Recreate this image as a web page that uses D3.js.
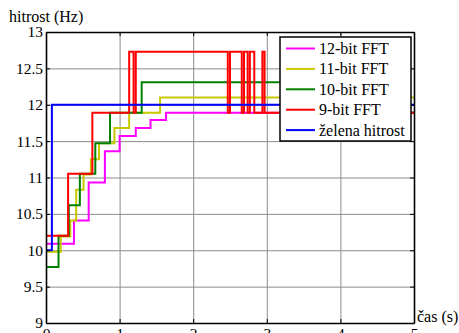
<!DOCTYPE html>
<html>
<head>
<meta charset="utf-8">
<script src="https://cdn.jsdelivr.net/npm/d3@7"></script>
<style>
  body { margin: 0; background: #fff; }
  svg text { font-family: "Liberation Serif", "Times New Roman", "DejaVu Serif", serif; }
</style>
</head>
<body>
<div id="container"></div>
<script>
/* DATA */
const xTicks = [0, 1, 2, 3, 4, 5];
const xTickLabels = ["0", "1", "2", "3", "4", "5"];
const yTicks = [9, 9.5, 10, 10.5, 11, 11.5, 12, 12.5, 13];
const yTickLabels = ["9", "9.5", "10", "10.5", "11", "11.5", "12", "12.5", "13"];

// 12-bit FFT
const t12 = [0, 0.38, 0.58, 0.80, 1.00, 1.22, 1.42, 1.63, 5];
const f12 = [10.09, 10.41, 10.93, 11.36, 11.57, 11.68, 11.79, 11.89, 11.89];
// 11-bit FFT
const t11 = [0, 0.20, 0.33, 0.41, 0.51, 0.61, 0.72, 0.93, 1.13, 1.55, 5];
const f11 = [9.98, 10.19, 10.41, 10.83, 11.04, 11.25, 11.47, 11.68, 11.89, 12.10, 12.10];
// 10-bit FFT
const t10 = [0, 0.17, 0.31, 0.46, 0.67, 0.87, 1.30, 4.6, 5];
const f10 = [9.77, 10.20, 10.62, 11.05, 11.47, 11.89, 12.31, 11.89, 11.89];
// 9-bit FFT
const t9 = [0, 0.30, 0.63, 1.13, 1.19, 1.22, 2.47, 2.50, 2.66, 2.69, 2.74, 2.77, 2.83, 2.94, 2.97, 5];
const f9 = [10.20, 11.05, 11.89, 12.73, 11.89, 12.73, 11.89, 12.73, 11.89, 12.73, 11.89, 12.73, 11.89, 12.73, 11.89, 11.89];
// zelena hitrost
const tRef = [0, 0.08, 5];
const fRef = [10.0, 12.0, 12.0];

const seriesNames = ["12-bit FFT", "11-bit FFT", "10-bit FFT", "9-bit FFT", "želena hitrost"];
const seriesColors = ["#ff00ff", "#c8c800", "#008000", "#ff0000", "#0000ff"];

/* CONSTANTS */
const width = 459, height = 333;
const margin = {top: 32, left: 46, bottom: 10, right: 45};
const serif = "'Liberation Serif', 'Times New Roman', 'DejaVu Serif', serif";

const series = [[t12, f12], [t11, f11], [t10, f10], [t9, f9], [tRef, fRef]]
  .map(([t, f], i) => ({name: seriesNames[i], color: seriesColors[i],
    values: t.map((d, j) => ({t: d, f: f[j]}))}));

// SCALES
const xScale = d3.scaleLinear().domain([0, 5]).range([margin.left, width - margin.right]);
const yScale = d3.scaleLinear().domain([9, 13]).range([height - margin.bottom, margin.top]);

const svg = d3.select("#container").append("svg")
  .attr("width", width).attr("height", height);

const x0 = xScale(0), x1 = xScale(5), y0 = yScale(9), y1 = yScale(13);

// GRID
svg.append("g")
  .attr("transform", `translate(0,${y0})`)
  .call(d3.axisBottom(xScale).tickValues(xTicks).tickSize(-(y0 - y1)).tickFormat(""))
  .call(g => g.select(".domain").remove())
  .call(g => g.selectAll("line").attr("stroke", "#8c8c8c").attr("stroke-width", 1));
svg.append("g")
  .attr("transform", `translate(${x0},0)`)
  .call(d3.axisLeft(yScale).tickValues(yTicks).tickSize(-(x1 - x0)).tickFormat(""))
  .call(g => g.select(".domain").remove())
  .call(g => g.selectAll("line").attr("stroke", "#8c8c8c").attr("stroke-width", 1));

// LINES
svg.append("clipPath").attr("id", "clip")
  .append("rect").attr("x", x0).attr("y", y1).attr("width", x1 - x0).attr("height", y0 - y1);

const lineGen = d3.line()
  .x(d => xScale(d.t))
  .y(d => yScale(d.f))
  .curve(d3.curveStepAfter);

svg.append("g").attr("clip-path", "url(#clip)")
  .selectAll(".line")
  .data(series)
  .join("path")
  .attr("class", "line")
  .attr("d", d => lineGen(d.values))
  .attr("fill", "none")
  .attr("stroke", d => d.color)
  .attr("stroke-width", 2);

// AXES (inward ticks on all sides)
const axisStyle = g => {
  g.attr("font-family", serif).attr("font-size", 15.5);
  g.select(".domain").attr("stroke", "#000").attr("stroke-width", 1.6);
  g.selectAll(".tick line").attr("stroke", "#000");
  g.selectAll("text").attr("fill", "#000");
};

svg.append("g")
  .attr("transform", `translate(0,${y0})`)
  .call(d3.axisBottom(xScale).tickValues(xTicks).tickSizeInner(-4).tickSizeOuter(0).tickPadding(5)
    .tickFormat((d, i) => xTickLabels[i]))
  .call(axisStyle);
svg.append("g")
  .attr("transform", `translate(0,${y1})`)
  .call(d3.axisTop(xScale).tickValues(xTicks).tickSizeInner(-4).tickSizeOuter(0).tickFormat(""))
  .call(axisStyle);
svg.append("g")
  .attr("transform", `translate(${x0},0)`)
  .call(d3.axisLeft(yScale).tickValues(yTicks).tickSizeInner(-4).tickSizeOuter(0).tickPadding(3)
    .tickFormat((d, i) => yTickLabels[i]))
  .call(axisStyle);
svg.append("g")
  .attr("transform", `translate(${x1},0)`)
  .call(d3.axisRight(yScale).tickValues(yTicks).tickSizeInner(-4).tickSizeOuter(0).tickFormat(""))
  .call(axisStyle);

// AXIS TITLES
svg.append("text").attr("x", 9).attr("y", 22)
  .attr("font-family", serif).attr("font-size", 16).text("hitrost (Hz)");
svg.append("text").attr("x", x1 + 3).attr("y", y0 - 1)
  .attr("font-family", serif).attr("font-size", 16).text("čas (s)");

// LEGEND
const lg = svg.append("g").attr("transform", "translate(280,37)");
lg.append("rect").attr("width", 131).attr("height", 104)
  .attr("fill", "#fff").attr("stroke", "#000").attr("stroke-width", 1.5);
const item = lg.selectAll(".item").data(series).join("g")
  .attr("class", "item")
  .attr("transform", (d, i) => `translate(0,${11.5 + i * 20.4})`);
item.append("line").attr("x1", 6).attr("x2", 35)
  .attr("stroke", d => d.color).attr("stroke-width", 2);
item.append("text").attr("x", 39).attr("y", 5.5)
  .attr("font-family", serif).attr("font-size", 16).text(d => d.name);
</script>
</body>
</html>
